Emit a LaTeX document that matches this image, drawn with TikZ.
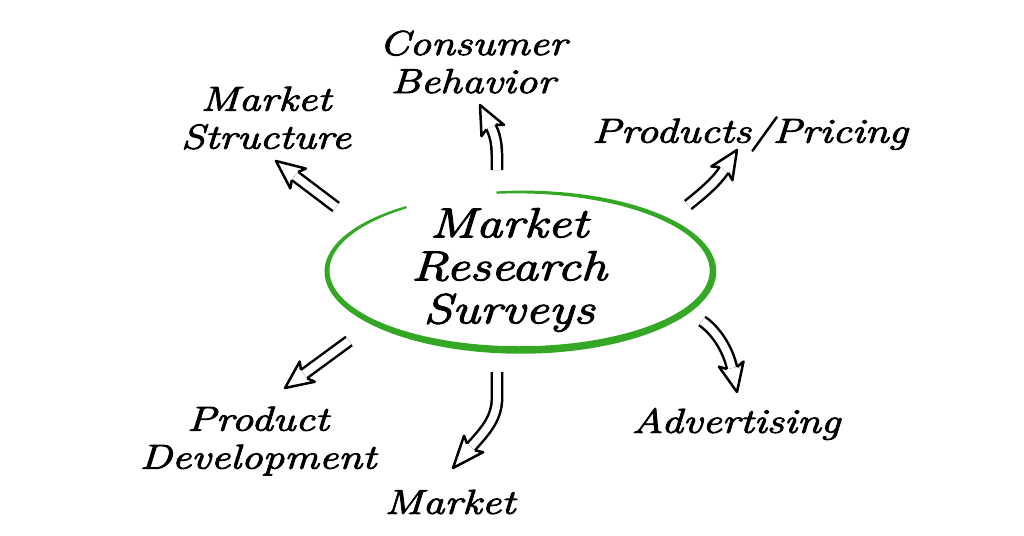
\documentclass[tikz,border=0pt]{standalone}
\usepackage{fontspec}
\newfontfamily\handfont{Latin Modern Roman}[FakeStretch=1.25,FakeBold=2.6]
\usetikzlibrary{calc}
\definecolor{mrgreen}{RGB}{52,168,36}
\newcommand\hhead[2]{%
  \coordinate (#1back) at ($(#1)!-2pt!(#2)$);
  \draw[headline] ($(#1)!2.6pt!90:(#2)$) -- ($(#1back)!6.3pt!90:(#2)$) -- (#2)
     -- ($(#1back)!6.3pt!-90:(#2)$) -- ($(#1)!2.6pt!-90:(#2)$);}
\begin{document}
\begin{tikzpicture}[x=0.5pt,y=-0.5pt,
  declare function={gw(\u)=1.2+2.6*sin((\u-263)/331*180);},
  lbl/.style={font=\handfont\itshape\fontsize{17.3}{19}\selectfont, align=center, inner sep=0pt},
  biglbl/.style={font=\handfont\itshape\fontsize{21}{21.5}\selectfont, align=center, inner sep=0pt},
  shaft/.style={draw=black, line width=1.25pt, double=white, double distance=3.9pt},
  headline/.style={draw=black, line width=1.25pt, line join=round}]
\useasboundingbox (0,0) rectangle (1024,536);
\fill[white] (0,0) rectangle (1024,536);

% central ellipse (brush stroke)
\fill[mrgreen] plot[domain=263:594,samples=160] ({520+(193+gw(\x))*cos(\x)},{271+(79+gw(\x))*sin(\x)})
  -- plot[domain=594:263,samples=160] ({520+(193-gw(\x))*cos(\x)},{271+(79-gw(\x))*sin(\x)}) -- cycle;

% labels
\node[biglbl] (mrs) at (509,270) {Market\\Research\\Surveys};
\node[lbl] (cb) at (473,62) {Consumer\\Behavior};
\node[lbl] (ms) at (266,118) {Market\\Structure};
\node[lbl] (pp) at (750,134) {Products/Pricing};
\node[lbl] (pd) at (258,441) {Product\\Development};
\node[lbl] (mk) at (450,502) {Market};
\node[lbl] (ad) at (736,424) {Advertising};

% arrow 1: Market Structure
\coordinate (t1) at (336,207); \coordinate (b1) at (295,176); \coordinate (p1) at (276,161);
\draw[shaft] (t1) -- (b1); \hhead{b1}{p1}
% arrow 2: Consumer Behavior
\coordinate (t2) at (497,170); \coordinate (b2) at (491,127); \coordinate (p2) at (480,105);
\coordinate (c2) at ($(b2)!-7pt!(p2)$);
\draw[shaft] (t2) .. controls (497,150) and (c2) .. (b2); \hhead{b2}{p2}
% arrow 3: Products/Pricing
\coordinate (t3) at (688,205); \coordinate (b3) at (724,170); \coordinate (p3) at (737,150);
\coordinate (c3) at ($(b3)!-7pt!(p3)$);
\draw[shaft] (t3) .. controls (703,193) and (c3) .. (b3); \hhead{b3}{p3}
% arrow 4: Product Development
\coordinate (t4) at (349,341); \coordinate (b4) at (304,374); \coordinate (p4) at (285,388);
\draw[shaft] (t4) -- (b4); \hhead{b4}{p4}
% arrow 5: Market
\coordinate (t5) at (497,372); \coordinate (m5) at (497,398);
\coordinate (b5) at (471,447); \coordinate (p5) at (453,468);
\coordinate (c5) at ($(b5)!-9pt!(p5)$);
\draw[shaft] (t5) -- (m5) .. controls (497,420) and (c5) .. (b5); \hhead{b5}{p5}
% arrow 6: Advertising
\coordinate (t6) at (702,321); \coordinate (b6) at (732,368); \coordinate (p6) at (737,392);
\coordinate (c6) at ($(b6)!-8pt!(p6)$);
\draw[shaft] (t6) .. controls (718,332) and (c6) .. (b6); \hhead{b6}{p6}
\end{tikzpicture}
\end{document}
